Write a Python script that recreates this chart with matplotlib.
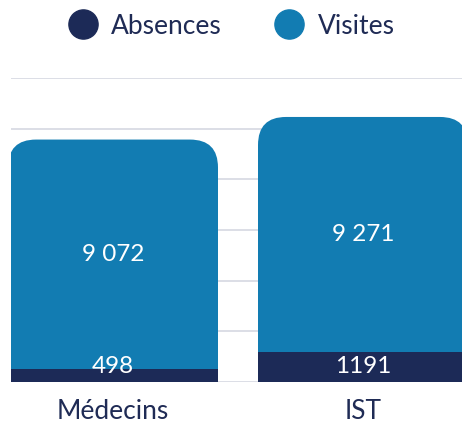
import matplotlib.pyplot as plt
from matplotlib.patches import FancyBboxPatch
from matplotlib.lines import Line2D

categories = ["Médecins", "IST"]
absences = [498, 1191]
visites = [9072, 9271]

navy = "#1c2a57"
blue = "#127cb2"
text_col = "#1f2b55"

plt.rcParams['font.family'] = ['Lato', 'DejaVu Sans']

fig = plt.figure(figsize=(4.62, 4.23), dpi=100)
ax = fig.add_axes([11 / 462, 41 / 423, 451 / 462, 304 / 423])

x = [0, 1]
width = 0.84
ax.set_xlim(-0.408, 1.396)
ax.set_ylim(0, 12000)
ax.set_yticks(range(0, 12001, 2000))
ax.yaxis.grid(True, color='#d9dbe4', linewidth=1.3)
ax.set_axisbelow(True)
for s in ax.spines.values():
    s.set_visible(False)
ax.tick_params(axis='y', length=0, labelleft=False)
ax.tick_params(axis='x', length=0, pad=12, labelsize=19, labelcolor=text_col)
ax.set_xticks(x)
ax.set_xticklabels(categories)

# pixel scale, so the rounded corners stay round
(x0, y0), (x1, y1) = ax.transData.transform([(0, 0), (1, 1)])
px_x = x1 - x0
px_y = y1 - y0
radius = 28 / px_x
aspect = px_x / px_y

# Visites: rounded top, started below 0 so the bottom corners get clipped
for xi, a, v in zip(x, absences, visites):
    box = FancyBboxPatch((xi - width / 2, -3000), width, a + v + 3000,
                         boxstyle="round,pad=0,rounding_size=%f" % radius,
                         mutation_aspect=aspect, fc=blue, ec='none', zorder=2)
    ax.add_patch(box)
    ax.text(xi, a + v / 2, f"{v:,}".replace(",", " "), color='white',
            fontsize=17.5, ha='center', va='center', zorder=4)

ax.bar(x, absences, width, color=navy, zorder=3)
for xi, a in zip(x, absences):
    ax.annotate(str(a), (xi, 0), xytext=(0, 6.5), textcoords='offset points',
                color='white', fontsize=17.5, ha='center', va='baseline', zorder=4)

handles = [Line2D([], [], marker='o', linestyle='', markersize=21, color=navy),
           Line2D([], [], marker='o', linestyle='', markersize=21, color=blue)]
fig.legend(handles, ["Absences", "Visites"], loc='center', ncol=2,
           bbox_to_anchor=(0.5, 1 - 26 / 423), frameon=False, fontsize=19,
           labelcolor=text_col, handlelength=1.2, handletextpad=0.48,
           columnspacing=1.95)

fig.savefig("out.png", dpi=100)
